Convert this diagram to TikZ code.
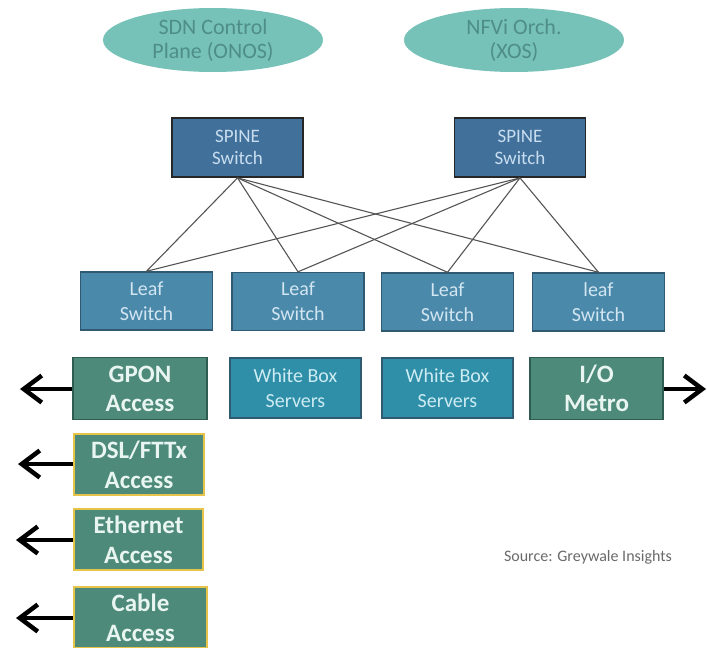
\documentclass[tikz,border=0pt]{standalone}
\usepackage{fontspec}
\setmainfont{Carlito}
\usetikzlibrary{shapes.geometric,arrows.meta}
\definecolor{ellfill}{HTML}{76C2B8}
\definecolor{elltext}{HTML}{4F8E88}
\definecolor{spinefill}{HTML}{41709A}
\definecolor{spinetext}{HTML}{C8DEF0}
\definecolor{leaffill}{HTML}{4B89AB}
\definecolor{leafdraw}{HTML}{2F5A72}
\definecolor{leaftext}{HTML}{D2E6F1}
\definecolor{accfill}{HTML}{4E8A7A}
\definecolor{accdraw}{HTML}{2F5C50}
\definecolor{acctext}{HTML}{E8F5F0}
\definecolor{wbfill}{HTML}{2F8FA8}
\definecolor{wbtext}{HTML}{CDEBF2}
\definecolor{yellowborder}{HTML}{E6C44A}
\definecolor{linkgray}{HTML}{555555}
\definecolor{srcgray}{HTML}{6A6A6A}
\begin{document}
\begin{tikzpicture}[x=1pt,y=-1pt,
  ctrl/.style={ellipse,fill=ellfill,draw=none,minimum width=220pt,minimum height=64pt,inner sep=0pt,align=center,text=elltext,font=\fontsize{22}{24}\selectfont},
  spinebox/.style={rectangle,fill=spinefill,draw=black!85,line width=1.8pt,minimum width=131pt,minimum height=59pt,inner sep=0pt,align=center,text=spinetext,font=\fontsize{19}{22}\selectfont},
  leafbox/.style={rectangle,fill=leaffill,draw=leafdraw,line width=1.4pt,minimum width=132pt,minimum height=58pt,inner sep=0pt,align=center,text=leaftext,font=\fontsize{20}{25}\selectfont},
  accbox/.style={rectangle,fill=accfill,draw=accdraw,line width=1.4pt,minimum width=134pt,minimum height=62pt,inner sep=0pt,align=center,text=acctext,font=\bfseries\fontsize{25}{29}\selectfont},
  wbbox/.style={rectangle,fill=wbfill,draw=leafdraw,line width=1.2pt,minimum width=131pt,minimum height=60pt,inner sep=0pt,align=center,text=wbtext,font=\fontsize{20}{25}\selectfont},
  ylbox/.style={rectangle,fill=accfill,draw=yellowborder,line width=2.2pt,minimum height=61pt,inner sep=0pt,align=center,text=acctext,font=\bfseries\fontsize{25}{30}\selectfont},
  link/.style={draw=linkgray,line width=1.1pt},
  outarrow/.style={draw=black,line width=4.5pt,-{Straight Barb[length=18pt,width=27pt,line width=4.5pt]}}
]
\useasboundingbox (0,0) rectangle (707,648);
\fill[white] (0,0) rectangle (707,648);

% control ellipses
\node[ctrl] (sdn) at (213,40) {SDN Control\\Plane (ONOS)};
\node[ctrl] (nfvi) at (514,40) {NFVi Orch.\\(XOS)};

% spine switches
\node[spinebox] (sp1) at (237.5,147.5) {SPINE\\Switch};
\node[spinebox] (sp2) at (520,147.5) {SPINE\\Switch};

% leaf switches
\node[leafbox] (l1) at (146.5,301) {Leaf\\Switch};
\node[leafbox] (l2) at (298,301.5) {Leaf\\Switch};
\node[leafbox] (l3) at (447.5,302) {Leaf\\Switch};
\node[leafbox] (l4) at (598.5,302) {leaf\\Switch};

% links
\foreach \s in {sp1,sp2}{
  \foreach \l in {l1,l2,l3,l4}{
    \draw[link] (\s.south) -- (\l.north);
  }
}

% third row
\node[accbox] (gpon) at (140,388.5) {GPON\\Access};
\node[wbbox] (wb1) at (295.5,388) {White Box\\Servers};
\node[wbbox] (wb2) at (447.5,388) {White Box\\Servers};
\node[accbox,minimum width=133pt] (io) at (596.5,388.5) {I/O\\Metro};

% access boxes
\node[ylbox,minimum width=130pt] (dsl) at (139,464.5) {DSL/FTTx\\Access};
\node[ylbox,minimum width=129pt] (eth) at (138.5,539.5) {Ethernet\\Access};
\node[ylbox,minimum width=133pt] (cab) at (140.5,617.5) {Cable\\Access};

% outward arrows
\coordinate (gptip) at (20,389);
\coordinate (iotip) at (706,389);
\coordinate (dsltip) at (18,464);
\coordinate (ethtip) at (16,540);
\coordinate (cabtip) at (16,618);
\draw[outarrow] (gpon.west |- gptip) -- (gptip);
\draw[outarrow] (io.east |- iotip) -- (iotip);
\draw[outarrow] (dsl.west |- dsltip) -- (dsltip);
\draw[outarrow] (eth.west |- ethtip) -- (ethtip);
\draw[outarrow] (cab.west |- cabtip) -- (cabtip);

% source
\node[text=srcgray,font=\fontsize{16}{18}\selectfont,anchor=center] (src) at (588,557) {Source: Greywale Insights};
\end{tikzpicture}
\end{document}
